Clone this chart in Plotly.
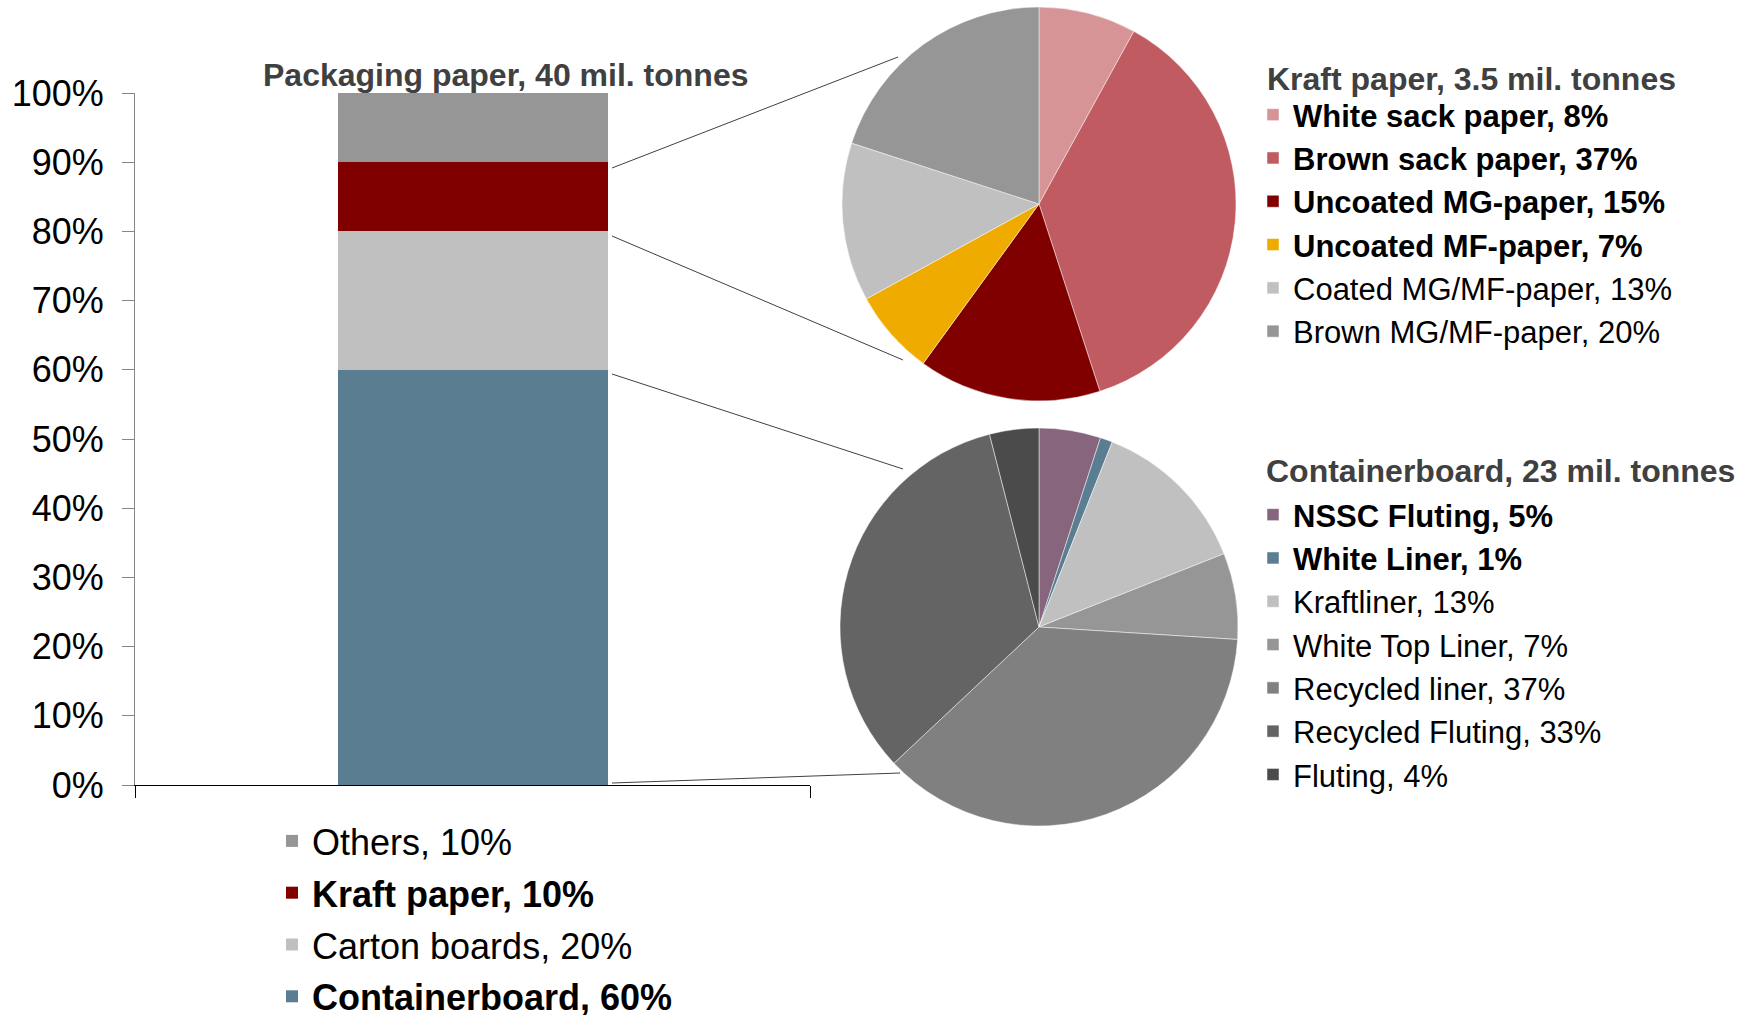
import plotly.graph_objects as go

W, H = 1752, 1015

# ---------------- data ----------------
bar_categories = ["Containerboard", "Carton boards", "Kraft paper", "Others"]
bar_shares = [60, 20, 10, 10]
bar_bold = [True, False, True, False]
bar_colors = ["#5B7D91", "#C0C0C0", "#800000", "#969696"]
bar_title = "Packaging paper, 40 mil. tonnes"

kraft_title = "Kraft paper, 3.5 mil. tonnes"
kraft_labels = ["White sack paper", "Brown sack paper", "Uncoated MG-paper",
                "Uncoated MF-paper", "Coated MG/MF-paper", "Brown MG/MF-paper"]
kraft_shares = [8, 37, 15, 7, 13, 20]
kraft_bold = [True, True, True, True, False, False]
kraft_colors = ["#D69497", "#C05B61", "#800000", "#F0AB00", "#C0C0C0", "#969696"]

cb_title = "Containerboard, 23 mil. tonnes"
cb_labels = ["NSSC Fluting", "White Liner", "Kraftliner", "White Top Liner",
             "Recycled liner", "Recycled Fluting", "Fluting"]
cb_shares = [5, 1, 13, 7, 37, 33, 4]
cb_bold = [True, True, False, False, False, False, False]
cb_colors = ["#87657D", "#5B7D91", "#C0C0C0", "#969696", "#808080", "#646464", "#4B4B4B"]

y_ticks = list(range(0, 101, 10))

FONT = "Liberation Sans, Arial, sans-serif"


def fmt(name, val, bold):
    s = f"{name}, {val}%"
    return f"<b>{s}</b>" if bold else s


def px_x(x):
    return x / W


def px_y(y):
    return 1 - y / H


fig = go.Figure()

# stacked bar (first trace at the bottom of the stack, legend lists top segment first)
n_bar = len(bar_categories)
for i, (cat, val, bold, col) in enumerate(zip(bar_categories, bar_shares, bar_bold, bar_colors)):
    fig.add_trace(go.Bar(
        x=["Packaging paper"], y=[val], name=fmt(cat, val, bold),
        marker=dict(color=col, line=dict(width=0)), width=0.4,
        legendgroup=cat, legendrank=n_bar - i, legend="legend",
        hovertemplate=f"{cat}: {val}%<extra></extra>",
    ))

# kraft paper pie
fig.add_trace(go.Pie(
    labels=[fmt(l, v, b) for l, v, b in zip(kraft_labels, kraft_shares, kraft_bold)],
    values=kraft_shares, sort=False, direction="clockwise", rotation=0,
    marker=dict(colors=kraft_colors, line=dict(color="rgba(255,255,255,0.6)", width=0.8)),
    textinfo="none", hoverinfo="label",
    domain=dict(x=[px_x(842), px_x(1236)], y=[px_y(401), px_y(7)]),
    legend="legend2",
))

# containerboard pie
fig.add_trace(go.Pie(
    labels=[fmt(l, v, b) for l, v, b in zip(cb_labels, cb_shares, cb_bold)],
    values=cb_shares, sort=False, direction="clockwise", rotation=0,
    marker=dict(colors=cb_colors, line=dict(color="rgba(255,255,255,0.6)", width=0.8)),
    textinfo="none", hoverinfo="label",
    domain=dict(x=[px_x(840), px_x(1238)], y=[px_y(826), px_y(428)]),
    legend="legend3",
))

# connector lines (bar segments -> pies), in pixel positions of the page
connectors = [((612, 168), (898, 57)),
              ((612, 236), (903, 360)),
              ((612, 374), (903, 469)),
              ((612, 783), (900, 773))]
shapes = [dict(type="line", xref="paper", yref="paper",
               x0=px_x(a[0]), y0=px_y(a[1]), x1=px_x(b[0]), y1=px_y(b[1]),
               line=dict(color="#404040", width=1)) for a, b in connectors]

titles = [(bar_title, 506, 75, "center"),
          (kraft_title, 1265, 79, "left"),
          (cb_title, 1264, 471, "left")]
annotations = [dict(text=f"<b>{t}</b>", xref="paper", yref="paper",
                    x=px_x(x), y=px_y(y), xanchor=anc, yanchor="middle",
                    showarrow=False,
                    font=dict(size=32, color="#404040", family=FONT))
               for t, x, y, anc in titles]

fig.update_layout(
    width=W, height=H,
    margin=dict(l=0, r=0, t=0, b=0, autoexpand=False),
    paper_bgcolor="white", plot_bgcolor="white",
    font=dict(family=FONT, color="black"),
    barmode="stack",
    bargap=0,
    showlegend=True,
    xaxis=dict(domain=[px_x(135), px_x(810)], range=[-0.5, 0.5],
               showticklabels=False, showline=True, linecolor="black", linewidth=1,
               ticks="outside", tickson="boundaries", ticklen=12, tickcolor="black",
               showgrid=False, zeroline=False, fixedrange=True),
    yaxis=dict(domain=[px_y(785), px_y(93)], range=[0, 100],
               tickvals=y_ticks, ticktext=[f"{t}%" for t in y_ticks],
               tickfont=dict(size=36, color="black", family=FONT),
               showline=True, linecolor="#868686", linewidth=1,
               ticks="outside", ticklen=12, tickcolor="#868686",
               ticklabelstandoff=11,
               showgrid=False, zeroline=False, fixedrange=True),
    legend=dict(x=px_x(272), y=px_y(811), xanchor="left", yanchor="top",
                traceorder="grouped", tracegroupgap=2,
                font=dict(size=36, color="black", family=FONT),
                bgcolor="rgba(0,0,0,0)", borderwidth=0),
    legend2=dict(x=px_x(1253), y=px_y(88), xanchor="left", yanchor="top",
                 font=dict(size=31, color="black", family=FONT),
                 bgcolor="rgba(0,0,0,0)", borderwidth=0),
    legend3=dict(x=px_x(1253), y=px_y(488), xanchor="left", yanchor="top",
                 font=dict(size=31, color="black", family=FONT),
                 bgcolor="rgba(0,0,0,0)", borderwidth=0),
    annotations=annotations,
    shapes=shapes,
)

fig.write_html("out.html")
